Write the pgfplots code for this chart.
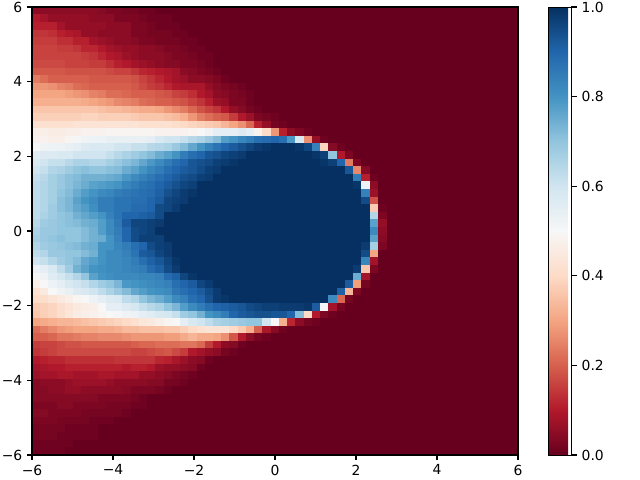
\documentclass[border=0pt]{standalone}
\usepackage{fontspec}
\setmainfont{DejaVu Sans}
\usepackage{pgfplots}
\usepackage{pgfplotstable}
\pgfplotsset{compat=1.18}

\pgfplotsset{colormap={rdbu}{rgb255=(103,0,31) rgb255=(178,24,43) rgb255=(214,96,77) rgb255=(244,165,130) rgb255=(253,219,199) rgb255=(247,247,247) rgb255=(209,229,240) rgb255=(146,197,222) rgb255=(67,147,195) rgb255=(33,102,172) rgb255=(5,48,97)}}
\definecolor{zeroval}{RGB}{103,0,31}

% one cell of the 59x59 mesh, 486/59 x 448/59 px
\pgfdeclareplotmark{cell}{%
  \pgfpathrectangle{\pgfpoint{-2.966bp}{-2.734bp}}{\pgfpoint{5.931bp}{5.467bp}}%
  \pgfusepathqfillstroke}

% rows run from y=6 down to y=-6, columns from x=-6; right of the last column all is 0
\pgfplotstableread[header=false]{
0.05 0.05 0.05 0.05 0.05 0.05 0.05 0.05 0.04 0.03  0.03 0.02 0.02 0.01 0.01 0 0 0 0 0  0 0 0 0 0 0 0 0 0 0  0 0 0 0 0 0 0 0 0 0  0 0 0
0.1 0.08 0.06 0.06 0.06 0.06 0.06 0.05 0.05 0.05  0.03 0.03 0.03 0.02 0.01 0.01 0.01 0 0 0  0 0 0 0 0 0 0 0 0 0  0 0 0 0 0 0 0 0 0 0  0 0 0
0.11 0.11 0.11 0.08 0.06 0.06 0.06 0.06 0.06 0.05  0.05 0.05 0.03 0.03 0.02 0.01 0.01 0.01 0 0  0 0 0 0 0 0 0 0 0 0  0 0 0 0 0 0 0 0 0 0  0 0 0
0.14 0.14 0.13 0.11 0.1 0.09 0.06 0.06 0.05 0.05  0.05 0.05 0.03 0.03 0.02 0.02 0.02 0.01 0.01 0  0 0 0 0 0 0 0 0 0 0  0 0 0 0 0 0 0 0 0 0  0 0 0
0.15 0.15 0.15 0.13 0.13 0.11 0.11 0.08 0.07 0.06  0.05 0.05 0.04 0.03 0.03 0.02 0.02 0.02 0.01 0.01  0 0 0 0 0 0 0 0 0 0  0 0 0 0 0 0 0 0 0 0  0 0 0
0.16 0.16 0.16 0.15 0.15 0.14 0.12 0.12 0.1 0.08  0.07 0.06 0.06 0.05 0.05 0.04 0.03 0.03 0.02 0.01  0.01 0 0 0 0 0 0 0 0 0  0 0 0 0 0 0 0 0 0 0  0 0 0
0.16 0.16 0.16 0.16 0.16 0.16 0.15 0.14 0.12 0.1  0.09 0.07 0.06 0.05 0.05 0.05 0.04 0.03 0.03 0.02  0.01 0.01 0 0 0 0 0 0 0 0  0 0 0 0 0 0 0 0 0 0  0 0 0
0.17 0.17 0.17 0.17 0.16 0.16 0.16 0.15 0.15 0.13  0.11 0.1 0.08 0.07 0.06 0.05 0.04 0.04 0.03 0.03  0.02 0.01 0 0 0 0 0 0 0 0  0 0 0 0 0 0 0 0 0 0  0 0 0
0.19 0.19 0.19 0.19 0.18 0.18 0.18 0.18 0.18 0.17  0.16 0.16 0.14 0.12 0.11 0.1 0.09 0.08 0.05 0.04  0.03 0.02 0.01 0 0 0 0 0 0 0  0 0 0 0 0 0 0 0 0 0  0 0 0
0.24 0.22 0.2 0.2 0.2 0.2 0.2 0.19 0.19 0.19  0.19 0.19 0.18 0.16 0.14 0.12 0.1 0.08 0.07 0.05  0.05 0.04 0.03 0.01 0 0 0 0 0 0  0 0 0 0 0 0 0 0 0 0  0 0 0
0.28 0.28 0.27 0.25 0.24 0.22 0.21 0.2 0.2 0.2  0.2 0.2 0.19 0.17 0.15 0.14 0.12 0.1 0.09 0.09  0.09 0.06 0.04 0.03 0.02 0.01 0 0 0 0  0 0 0 0 0 0 0 0 0 0  0 0 0
0.3 0.3 0.3 0.3 0.29 0.28 0.27 0.25 0.24 0.22  0.22 0.21 0.2 0.2 0.2 0.19 0.18 0.16 0.15 0.13  0.1 0.08 0.05 0.04 0.03 0.02 0.01 0 0 0  0 0 0 0 0 0 0 0 0 0  0 0 0
0.32 0.32 0.32 0.32 0.32 0.32 0.31 0.3 0.29 0.28  0.26 0.25 0.24 0.22 0.21 0.2 0.2 0.19 0.18 0.16  0.14 0.11 0.07 0.06 0.03 0.03 0.01 0 0 0  0 0 0 0 0 0 0 0 0 0  0 0 0
0.36 0.36 0.36 0.36 0.36 0.36 0.36 0.36 0.35 0.34  0.34 0.33 0.32 0.31 0.31 0.3 0.28 0.26 0.24 0.21  0.18 0.16 0.14 0.1 0.06 0.04 0.02 0.01 0 0  0 0 0 0 0 0 0 0 0 0  0 0 0
0.38 0.38 0.38 0.38 0.38 0.38 0.39 0.39 0.38 0.38  0.38 0.38 0.37 0.36 0.36 0.36 0.35 0.34 0.32 0.28  0.24 0.22 0.2 0.19 0.15 0.1 0.07 0.03 0.02 0.01  0 0 0 0 0 0 0 0 0 0  0 0 0
0.42 0.42 0.42 0.42 0.42 0.43 0.43 0.43 0.43 0.43  0.43 0.43 0.43 0.42 0.42 0.42 0.42 0.41 0.4 0.39  0.38 0.37 0.36 0.33 0.3 0.27 0.21 0.11 0.06 0.02  0.01 0 0 0 0 0 0 0 0 0  0 0 0
0.47 0.47 0.46 0.46 0.47 0.47 0.48 0.48 0.48 0.49  0.49 0.49 0.49 0.49 0.49 0.48 0.48 0.48 0.48 0.49  0.5 0.52 0.55 0.55 0.55 0.57 0.55 0.48 0.4 0.28  0.11 0.05 0.03 0.01 0 0 0 0 0 0  0 0 0
0.48 0.48 0.47 0.47 0.49 0.51 0.52 0.53 0.53 0.54  0.54 0.54 0.54 0.54 0.55 0.58 0.6 0.6 0.62 0.64  0.66 0.69 0.72 0.78 0.8 0.83 0.85 0.88 0.89 0.9  0.88 0.79 0.58 0.27 0.06 0.01 0 0 0 0  0 0 0
0.5 0.52 0.53 0.53 0.54 0.55 0.57 0.58 0.58 0.58  0.6 0.6 0.62 0.62 0.64 0.65 0.66 0.69 0.72 0.76  0.8 0.84 0.87 0.9 0.92 0.94 0.96 0.98 0.99 1  1 1 0.99 0.96 0.84 0.39 0.04 0.01 0 0  0 0 0
0.56 0.57 0.57 0.58 0.58 0.6 0.6 0.6 0.6 0.62  0.64 0.66 0.68 0.7 0.72 0.75 0.77 0.8 0.85 0.88  0.9 0.93 0.94 0.96 0.97 0.98 1 1 1 1  1 1 1 1 0.99 0.97 0.7 0.1 0.03 0  0 0 0
0.58 0.6 0.62 0.62 0.64 0.66 0.66 0.65 0.65 0.67  0.69 0.71 0.73 0.76 0.79 0.82 0.85 0.88 0.9 0.93  0.94 0.95 0.97 0.98 0.99 1 1 1 1 1  1 1 1 1 1 0.99 0.97 0.9 0.24 0.03  0 0 0
0.6 0.62 0.65 0.66 0.68 0.7 0.71 0.7 0.7 0.71  0.72 0.75 0.77 0.8 0.83 0.85 0.88 0.9 0.92 0.93  0.95 0.97 0.98 1 1 1 1 1 1 1  1 1 1 1 1 1 1 1 0.93 0.26  0.04 0 0
0.62 0.64 0.67 0.69 0.71 0.72 0.74 0.74 0.74 0.75  0.76 0.79 0.82 0.84 0.86 0.88 0.9 0.92 0.94 0.95  0.97 0.98 1 1 1 1 1 1 1 1  1 1 1 1 1 1 1 1 1 0.85  0.11 0.01 0
0.63 0.65 0.67 0.69 0.71 0.73 0.75 0.77 0.78 0.79  0.8 0.83 0.85 0.87 0.88 0.9 0.92 0.94 0.96 0.97  1 1 1 1 1 1 1 1 1 1  1 1 1 1 1 1 1 1 1 0.99  0.53 0.05 0
0.63 0.65 0.67 0.7 0.72 0.75 0.78 0.8 0.82 0.83  0.85 0.86 0.87 0.88 0.89 0.91 0.94 0.96 0.98 0.99  1 1 1 1 1 1 1 1 1 1  1 1 1 1 1 1 1 1 1 1  0.84 0.07 0
0.63 0.65 0.67 0.71 0.73 0.77 0.8 0.82 0.85 0.85  0.87 0.87 0.88 0.88 0.9 0.92 0.96 0.97 0.98 1  1 1 1 1 1 1 1 1 1 1  1 1 1 1 1 1 1 1 1 1  0.95 0.18 0
0.63 0.65 0.68 0.71 0.73 0.76 0.78 0.81 0.85 0.85  0.87 0.87 0.89 0.89 0.9 0.95 0.96 0.98 1 1  1 1 1 1 1 1 1 1 1 1  1 1 1 1 1 1 1 1 1 1  1 0.37 0.01
0.63 0.66 0.68 0.7 0.71 0.74 0.76 0.78 0.8 0.84  0.87 0.9 0.9 0.91 0.92 0.95 1 1 1 1  1 1 1 1 1 1 1 1 1 1  1 1 1 1 1 1 1 1 1 1  1 0.65 0.03
0.64 0.68 0.69 0.7 0.71 0.72 0.74 0.75 0.78 0.82  0.86 0.92 0.96 0.96 0.97 0.98 1 1 1 1  1 1 1 1 1 1 1 1 1 1  1 1 1 1 1 1 1 1 1 1  1 0.77 0.06
0.66 0.69 0.69 0.7 0.7 0.7 0.72 0.74 0.78 0.82  0.85 0.9 0.95 0.96 0.97 1 1 1 1 1  1 1 1 1 1 1 1 1 1 1  1 1 1 1 1 1 1 1 1 1  1 0.82 0.05
0.67 0.69 0.7 0.71 0.7 0.7 0.72 0.74 0.75 0.8  0.84 0.9 0.95 0.97 0.97 0.97 1 1 1 1  1 1 1 1 1 1 1 1 1 1  1 1 1 1 1 1 1 1 1 1  1 0.77 0.04
0.65 0.68 0.69 0.7 0.71 0.72 0.74 0.75 0.8 0.8  0.83 0.85 0.88 0.9 0.95 0.97 0.98 1 1 1  1 1 1 1 1 1 1 1 1 1  1 1 1 1 1 1 1 1 1 1  0.98 0.67 0.03
0.63 0.65 0.69 0.69 0.7 0.7 0.72 0.74 0.8 0.82  0.82 0.84 0.87 0.92 0.93 0.96 0.98 1 1 1  1 1 1 1 1 1 1 1 1 1  1 1 1 1 1 1 1 1 1 1  0.95 0.3 0
0.6 0.62 0.65 0.68 0.7 0.72 0.76 0.78 0.8 0.82  0.82 0.83 0.85 0.88 0.91 0.93 0.96 0.99 1 1  1 1 1 1 1 1 1 1 1 1  1 1 1 1 1 1 1 1 1 1  0.83 0.08 0
0.53 0.55 0.58 0.63 0.68 0.74 0.77 0.8 0.81 0.82  0.82 0.83 0.84 0.85 0.89 0.91 0.95 0.98 1 1  1 1 1 1 1 1 1 1 1 1  1 1 1 1 1 1 1 1 1 0.98  0.36 0.03 0
0.5 0.52 0.56 0.59 0.62 0.65 0.7 0.77 0.8 0.81  0.82 0.82 0.82 0.83 0.83 0.84 0.89 0.91 0.96 0.99  1 1 1 1 1 1 1 1 1 1  1 1 1 1 1 1 1 1 1 0.75  0.08 0 0
0.47 0.5 0.53 0.55 0.58 0.6 0.62 0.65 0.68 0.7  0.73 0.79 0.8 0.81 0.82 0.83 0.84 0.88 0.9 0.92  0.96 0.98 1 1 1 1 1 1 1 1  1 1 1 1 1 1 1 1 0.92 0.29  0.02 0 0
0.42 0.45 0.5 0.52 0.54 0.57 0.58 0.6 0.63 0.66  0.69 0.72 0.76 0.78 0.8 0.81 0.82 0.86 0.88 0.9  0.92 0.95 0.98 1 1 1 1 1 1 1  1 1 1 1 1 1 1 0.91 0.33 0.03  0 0 0
0.4 0.41 0.43 0.45 0.47 0.49 0.5 0.53 0.55 0.57  0.58 0.63 0.65 0.7 0.73 0.75 0.78 0.82 0.84 0.88  0.9 0.94 0.98 0.99 1 1 1 1 1 1  1 1 1 1 1 1 0.82 0.21 0.02 0  0 0 0
0.37 0.38 0.39 0.41 0.43 0.45 0.46 0.47 0.5 0.55  0.55 0.57 0.59 0.62 0.64 0.66 0.7 0.73 0.78 0.82  0.85 0.88 0.9 0.91 0.92 0.93 0.95 0.96 0.97 0.97  0.98 0.98 0.98 0.99 0.92 0.51 0.08 0.02 0 0  0 0 0
0.36 0.38 0.39 0.41 0.44 0.46 0.47 0.48 0.49 0.5  0.51 0.52 0.53 0.55 0.56 0.58 0.59 0.62 0.68 0.7  0.74 0.8 0.82 0.85 0.9 0.92 0.93 0.94 0.94 0.93  0.93 0.9 0.72 0.4 0.1 0.03 0.01 0 0 0  0 0 0
0.3 0.31 0.32 0.33 0.33 0.34 0.35 0.36 0.37 0.38  0.39 0.4 0.42 0.44 0.45 0.47 0.49 0.5 0.55 0.58  0.6 0.63 0.66 0.67 0.68 0.69 0.7 0.7 0.6 0.5  0.32 0.12 0.05 0.02 0.01 0 0 0 0 0  0 0 0
0.22 0.24 0.26 0.28 0.29 0.3 0.3 0.3 0.31 0.31  0.32 0.34 0.34 0.35 0.35 0.35 0.36 0.36 0.38 0.4  0.42 0.43 0.43 0.43 0.4 0.37 0.32 0.2 0.09 0.04  0.01 0 0 0 0 0 0 0 0 0  0 0 0
0.2 0.2 0.21 0.23 0.23 0.24 0.25 0.25 0.26 0.26  0.26 0.27 0.28 0.28 0.28 0.28 0.29 0.29 0.31 0.33  0.31 0.31 0.3 0.27 0.19 0.1 0.05 0.02 0.01 0  0 0 0 0 0 0 0 0 0 0  0 0 0
0.15 0.16 0.16 0.17 0.18 0.18 0.19 0.19 0.19 0.19  0.19 0.19 0.2 0.21 0.21 0.22 0.22 0.22 0.23 0.23  0.21 0.15 0.1 0.05 0.04 0.01 0 0 0 0  0 0 0 0 0 0 0 0 0 0  0 0 0
0.14 0.15 0.16 0.17 0.17 0.17 0.17 0.17 0.17 0.17  0.17 0.17 0.16 0.16 0.17 0.18 0.19 0.17 0.15 0.1  0.08 0.06 0.05 0.02 0.01 0 0 0 0 0  0 0 0 0 0 0 0 0 0 0  0 0 0
0.1 0.11 0.12 0.12 0.13 0.13 0.13 0.13 0.13 0.13  0.14 0.14 0.14 0.14 0.14 0.12 0.11 0.09 0.07 0.05  0.04 0.01 0 0 0 0 0 0 0 0  0 0 0 0 0 0 0 0 0 0  0 0 0
0.08 0.09 0.1 0.1 0.11 0.11 0.11 0.11 0.11 0.11  0.11 0.1 0.11 0.11 0.1 0.07 0.06 0.06 0.05 0.04  0.01 0 0 0 0 0 0 0 0 0  0 0 0 0 0 0 0 0 0 0  0 0 0
0.07 0.08 0.08 0.09 0.09 0.08 0.08 0.08 0.09 0.09  0.08 0.08 0.08 0.06 0.06 0.05 0.04 0.03 0.02 0.01  0 0 0 0 0 0 0 0 0 0  0 0 0 0 0 0 0 0 0 0  0 0 0
0.04 0.05 0.05 0.05 0.06 0.07 0.07 0.07 0.07 0.06  0.05 0.05 0.05 0.05 0.04 0.04 0.02 0.02 0.01 0  0 0 0 0 0 0 0 0 0 0  0 0 0 0 0 0 0 0 0 0  0 0 0
0.04 0.04 0.05 0.05 0.06 0.06 0.05 0.05 0.05 0.05  0.05 0.04 0.03 0.03 0.03 0.02 0.01 0 0 0  0 0 0 0 0 0 0 0 0 0  0 0 0 0 0 0 0 0 0 0  0 0 0
0.04 0.04 0.04 0.04 0.04 0.04 0.04 0.04 0.03 0.03  0.03 0.03 0.02 0.01 0 0 0 0 0 0  0 0 0 0 0 0 0 0 0 0  0 0 0 0 0 0 0 0 0 0  0 0 0
0.03 0.03 0.03 0.04 0.04 0.03 0.03 0.03 0.03 0.02  0.02 0.02 0.01 0.01 0 0 0 0 0 0  0 0 0 0 0 0 0 0 0 0  0 0 0 0 0 0 0 0 0 0  0 0 0
0.04 0.04 0.03 0.03 0.03 0.03 0.02 0.02 0.02 0.02  0.02 0.01 0 0 0 0 0 0 0 0  0 0 0 0 0 0 0 0 0 0  0 0 0 0 0 0 0 0 0 0  0 0 0
0.03 0.03 0.03 0.02 0.02 0.02 0.02 0.01 0.01 0.01  0 0 0 0 0 0 0 0 0 0  0 0 0 0 0 0 0 0 0 0  0 0 0 0 0 0 0 0 0 0  0 0 0
0.02 0.02 0.02 0.02 0.01 0.01 0.01 0.01 0 0  0 0 0 0 0 0 0 0 0 0  0 0 0 0 0 0 0 0 0 0  0 0 0 0 0 0 0 0 0 0  0 0 0
0.02 0.02 0.02 0.01 0.01 0.01 0.01 0.01 0 0  0 0 0 0 0 0 0 0 0 0  0 0 0 0 0 0 0 0 0 0  0 0 0 0 0 0 0 0 0 0  0 0 0
0.01 0.01 0.01 0.01 0.01 0 0 0 0 0  0 0 0 0 0 0 0 0 0 0  0 0 0 0 0 0 0 0 0 0  0 0 0 0 0 0 0 0 0 0  0 0 0
0.01 0.01 0.01 0.01 0 0 0 0 0 0  0 0 0 0 0 0 0 0 0 0  0 0 0 0 0 0 0 0 0 0  0 0 0 0 0 0 0 0 0 0  0 0 0
}\grid

\begin{document}
\begin{tikzpicture}
\useasboundingbox (-23.04bp,-18bp) rectangle (437.76bp,327.6bp);
\begin{axis}[
    scale only axis,
    width=349.92bp,
    height=322.56bp,
    xmin=-6, xmax=6,
    ymin=-6, ymax=6,
    xtick={-6,-4,-2,0,2,4,6},
    ytick={-6,-4,-2,0,2,4,6},
    xticklabels={−6,−4,−2,0,2,4,6},
    yticklabels={−6,−4,−2,0,2,4,6},
    tick align=outside,
    xtick pos=bottom,
    ytick pos=left,
    major tick length=3.5bp,
    tick style={line width=0.8bp,black},
    axis line style={line width=0.8bp},
    tick label style={font=\fontsize{10bp}{12bp}\selectfont},
    axis background/.style={fill=zeroval},
    % the marks cover the frame, so it is stroked again at the end
    after end axis/.code={\draw[line width=0.8bp,black] (rel axis cs:0,0) rectangle (rel axis cs:1,1);},
    colormap name=rdbu,
    point meta min=0,
    point meta max=1,
    colorbar,
    colorbar style={
        at={(1.0628,1)},
        anchor=north west,
        width=16.13bp,
        ytick={0,0.2,0.4,0.6,0.8,1},
        yticklabels={0.0,0.2,0.4,0.6,0.8,1.0},
        ytick pos=right,
        yticklabel pos=right,
        tick align=outside,
    },
]
\pgfplotsinvokeforeach{0,...,42}{
  \addplot[scatter, only marks, mark=cell, point meta=explicit,
      scatter/use mapped color={draw=mapped color,fill=mapped color},
      mark options={line width=0.3bp}]
    table[x expr={-6+(#1+0.5)*12/59}, y expr={6-(\coordindex+0.5)*12/59}, meta index=#1] {\grid};
}
\end{axis}
\end{tikzpicture}
\end{document}
